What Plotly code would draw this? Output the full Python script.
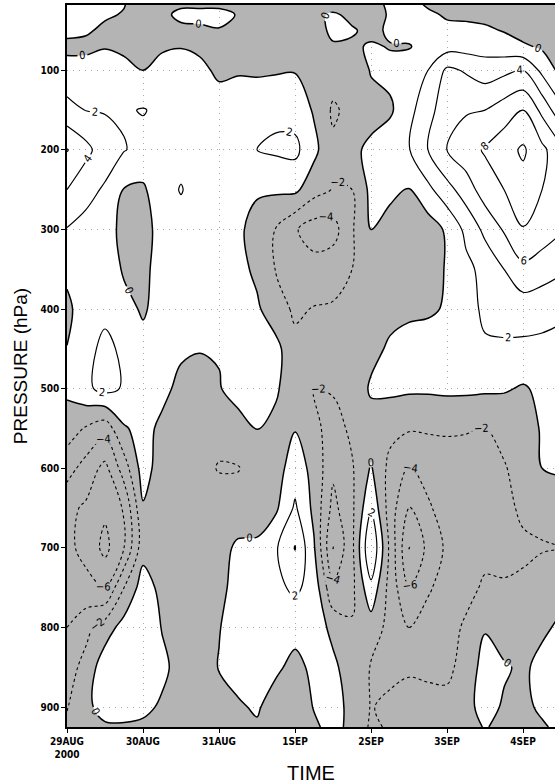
import plotly.graph_objects as go

# time in days after 29AUG2000 00Z (6-hourly)
days = [0, 0.25, 0.5, 0.75, 1, 1.25, 1.5, 1.75, 2, 2.25, 2.5, 2.75, 3, 3.25, 3.5,
        3.75, 4, 4.25, 4.5, 4.75, 5, 5.25, 5.5, 5.75, 6, 6.25, 6.5]
pressure = [925, 900, 850, 800, 750, 700, 650, 600, 550, 500, 450, 400, 350, 300,
            250, 200, 150, 100, 70, 50, 30, 15]

tick_days = [0, 1, 2, 3, 4, 5, 6]
tick_text = ["29AUG<br>2000", "30AUG", "31AUG", "1SEP", "2SEP", "3SEP", "4SEP"]
p_ticks = [100, 200, 300, 400, 500, 600, 700, 800, 900]

r925 = [-1.6, -1.2, -0.3, -0.3, -0.4, -0.8, -1.0, -1.0, -0.8, -0.5, -0.2, -0.6, -1.0, -0.3, 0.6, -0.5, -2.3, -1.8, -1.5, -1.3, -1.2, -0.6, 0.1, -0.4, -0.6, -0.2, 0.4]
r900 = [-2.1, -0.5, 0.8, 1.0, 0.5, -0.3, -1.0, -1.0, -0.7, -0.2, 0.2, -0.8, -1.2, 0.1, 0.8, -0.6, -2.1, -1.6, -1.7, -1.5, -1.6, -0.5, 0.6, -0.2, -0.4, 0.3, 0.8]
r850 = [-2.9, -1.3, 1.2, 1.5, 1.3, 0.5, -0.8, -1.0, 0.1, 0.6, 0.8, 0.3, -0.5, 0.4, 0.5, -1.2, -2.1, -2.5, -2.1, -2.3, -2.3, -1.5, 1.0, 0.2, -0.3, 0.5, 1.0]
r800 = [-4.0, -2.6, -1.0, 0.8, 1.7, -0.1, -1.0, -1.2, -0.1, 1.0, 1.5, 1.2, 0.6, 1.2, -0.6, -1.8, -1.0, -2.6, -4.0, -3.0, -2.5, -1.8, -0.2, -1.0, -0.8, -0.3, 0.3]
r750 = [-4.8, -5.5, -6.1, -2.0, 1.0, -0.6, -1.5, -1.5, -0.6, 0.8, 1.5, 1.5, 2.4, 1.2, -3.6, -2.5, 1.5, -2.8, -6.0, -4.3, -3.0, -2.4, -1.8, -1.9, -1.8, -1.3, -0.5]
r700 = [-5.6, -6.5, -8.6, -6.0, -0.8, -1.6, -1.6, -1.2, -0.6, 0.3, 0.3, 1.8, 4.1, 0.2, -6.05, -2.5, 4.0, -2.5, -8.05, -5.5, -3.6, -2.8, -2.4, -2.3, -2.2, -2.1, -2.0]
r650 = [-5.5, -6.3, -7.6, -5.8, -0.2, -1.5, -1.8, -1.4, -1.2, -1.0, -0.8, -0.3, 2.3, -0.5, -4.6, -2.4, 1.8, -3.0, -6.2, -4.3, -3.0, -2.5, -2.4, -2.3, -1.8, -1.6, -1.3]
r600 = [-3.2, -4.8, -6.6, -3.0, 0.9, -1.0, -1.5, -1.5, -2.1, -2.1, -1.2, -0.8, 1.0, -0.6, -3.6, -2.2, 0.2, -2.6, -4.2, -3.2, -2.8, -2.6, -2.4, -2.1, -1.5, 0.0, 0.3]
r550 = [-1.0, -2.2, -3.2, -0.2, 0.6, -0.4, -1.2, -1.5, -1.5, -0.6, 0.1, -0.6, -0.1, -1.5, -2.8, -1.6, -1.0, -1.4, -1.8, -1.8, -1.8, -1.9, -2.05, -1.6, -1.0, 0.2, 0.5]
r500 = [0.4, 1.6, 2.6, 1.8, 1.5, 0.5, -0.5, -0.8, -0.1, 0.6, 0.8, 0.3, -1.5, -2.0, -1.8, -1.5, 0.3, 0.4, 0.3, 0.3, 0.4, 0.4, 0.3, 0.2, -0.2, 0.4, 0.8]
r450 = [0.05, 1.4, 2.5, 1.6, 0.8, 1.5, 0.3, 0.1, 0.1, 1.2, 1.5, 0.6, -1.5, -1.8, -1.6, -1.2, -0.6, 0.3, 0.8, 1.0, 1.3, 1.6, 1.8, 1.8, 1.6, 1.6, 1.5]
r400 = [-0.5, 1.2, 1.5, 0.8, -0.3, 1.0, 1.3, 1.2, 1.2, 0.8, 0.3, -1.2, -2.3, -1.9, -1.8, -1.5, -1.0, -0.6, -0.4, -0.3, 0.2, 1.4, 2.3, 2.5, 2.9, 2.6, 2.3]
r350 = [0.5, 1.3, 1.6, -0.3, -0.6, 1.0, 1.3, 1.2, 1.3, 0.6, -0.4, -2.1, -2.8, -3.2, -2.8, -2.0, -1.3, -1.0, -0.9, -0.5, 0.1, 1.5, 2.6, 4.0, 5.5, 5.0, 4.3]
r300 = [1.9, 1.5, 1.2, -0.8, -0.8, 0.8, 1.3, 1.2, 1.5, 0.3, -0.6, -2.1, -3.8, -5.0, -4.8, -2.2, 0.0, -0.5, -0.8, -1.0, 0.3, 2.5, 4.5, 6.2, 7.9, 7.0, 6.2]
r250 = [4.0, 2.5, 1.8, -0.1, -0.3, 1.3, 2.1, 1.2, 1.2, 1.4, 0.2, 0.3, 0.4, -1.2, -2.1, -2.0, 0.5, 0.3, -0.1, 1.5, 3.3, 5.0, 7.0, 8.0, 9.2, 8.0, 7.0]
r200 = [6.1, 4.6, 2.8, 2.1, 1.4, 1.5, 1.4, 1.2, 1.3, 1.6, 2.0, 2.3, 2.5, 0.5, -1.6, -0.3, 0.3, 1.2, 1.9, 4.1, 6.1, 7.2, 8.2, 9.2, 10.3, 8.5, 6.5]
r150 = [2.6, 1.95, 1.9, 1.8, 2.1, 1.6, 1.4, 1.3, 1.0, 1.2, 1.4, 1.6, 1.2, -0.2, -2.3, -1.4, -0.5, -0.3, 1.4, 3.3, 5.2, 5.8, 6.0, 7.0, 8.0, 5.5, 2.5]
r100 = [0.8, 0.7, 0.8, 0.7, 0.0, 0.8, 1.0, 0.5, -0.4, -0.2, -0.3, -0.2, -0.1, -0.4, -1.0, -1.0, 0.1, 0.5, 0.8, 2.0, 4.4, 3.8, 3.0, 3.5, 4.0, 1.5, -0.6]
r70 = [-0.5, -0.4, -0.1, -0.5, -0.6, -0.3, -0.1, -0.4, -0.8, -0.8, -1.0, -1.0, -0.8, -0.6, -0.2, -0.3, 0.2, -0.1, -0.1, 0.6, 1.2, 1.2, 1.2, 0.8, 0.3, -0.3, -0.5]
r50 = [0.5, 0.2, -0.3, -0.8, -1.0, -0.8, -0.5, -0.4, -0.1, -0.6, -0.8, -1.0, -1.0, -0.8, 0.4, 0.2, -0.5, 0.3, 0.5, 0.5, 0.4, 0.4, 0.3, -0.1, -0.8, -1.0, -1.2]
r30 = [1.0, 0.5, 0.2, -0.1, -1.0, -0.5, 0.5, 0.6, 0.5, -0.1, -0.5, -0.5, -0.6, -0.5, 0.3, -0.5, -0.8, 0.2, 0.6, 0.3, -0.2, -0.3, -0.5, -0.8, -1.2, -1.3, -1.4]
r15 = [1.0, 0.5, 0.2, 0.1, -1.0, -0.8, -0.5, -0.6, -0.5, -0.6, -0.8, -0.8, -1.0, -1.0, -1.2, -1.0, -0.5, 0.3, 0.5, -0.3, -1.0, -1.0, -1.2, -1.2, -1.5, -1.5, -1.5]

omega = [r925, r900, r850, r800, r750, r700, r650, r600, r550, r500, r450, r400,
         r350, r300, r250, r200, r150, r100, r70, r50, r30, r15]

FONT = "Liberation Sans Narrow, Arial Narrow, DejaVu Sans Condensed, Liberation Sans, sans-serif"
TITLE_FONT = "Liberation Sans, Arial, sans-serif"
GRAY = "#b4b4b4"
black_scale = [[0, "black"], [1, "black"]]

fig = go.Figure()
# shading of negative values (constraint shades the region failing "> 0")
fig.add_trace(go.Contour(
    x=days, y=pressure, z=omega,
    contours=dict(type="constraint", operation=">", value=0),
    fillcolor=GRAY, line=dict(width=0, color=GRAY),
    showscale=False, hoverinfo="skip"))
# zero line (solid, slightly heavier)
fig.add_trace(go.Contour(
    x=days, y=pressure, z=omega,
    contours=dict(coloring="lines", start=0, end=0, size=2, showlabels=True,
                  labelfont=dict(size=11, color="black", family=FONT)),
    colorscale=black_scale, line=dict(width=1.5), showscale=False, hoverinfo="skip"))
# positive contours (solid)
fig.add_trace(go.Contour(
    x=days, y=pressure, z=omega,
    contours=dict(coloring="lines", start=2, end=12, size=2, showlabels=True,
                  labelfont=dict(size=11, color="black", family=FONT)),
    colorscale=black_scale, line=dict(width=1.2), showscale=False, hoverinfo="skip"))
# negative contours (dashed)
fig.add_trace(go.Contour(
    x=days, y=pressure, z=omega,
    contours=dict(coloring="lines", start=-10, end=-2, size=2, showlabels=True,
                  labelfont=dict(size=11, color="black", family=FONT)),
    colorscale=black_scale, line=dict(width=1.1, dash="3px,3px"), showscale=False,
    hoverinfo="skip"))

fig.update_layout(
    width=555, height=784,
    margin=dict(l=67, r=0, t=5, b=52),
    paper_bgcolor="white", plot_bgcolor="white",
    showlegend=False,
    font=dict(family=FONT, color="black"),
)
fig.update_xaxes(
    range=[0, 6.42], tickvals=tick_days, ticktext=tick_text,
    tickfont=dict(size=10, family=FONT, weight="bold"),
    ticks="outside", ticklen=4, tickcolor="black",
    showline=True, linecolor="black", linewidth=1.5, mirror=True,
    showgrid=True, gridcolor="#a8a8a8", griddash="1px,5px", gridwidth=1.2,
    zeroline=False,
    title=dict(text="TIME", font=dict(size=20, family=TITLE_FONT), standoff=10),
)
fig.update_yaxes(
    range=[925, 18], tickvals=p_ticks,
    tickfont=dict(size=10, family=FONT, weight="bold"),
    ticks="outside", ticklen=4, tickcolor="black",
    showline=True, linecolor="black", linewidth=1.5, mirror=False,
    showgrid=True, gridcolor="#a8a8a8", griddash="1px,5px", gridwidth=1.2,
    zeroline=False,
    title=dict(text="PRESSURE (hPa)", font=dict(size=19, family=TITLE_FONT), standoff=8),
)
fig.write_html("out.html")
